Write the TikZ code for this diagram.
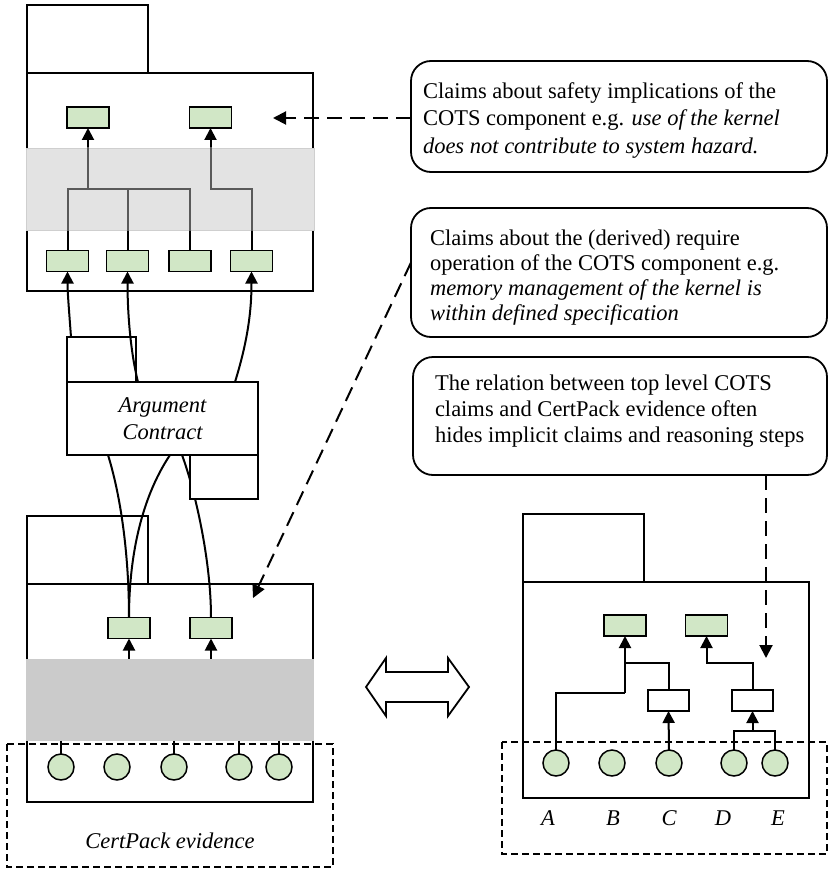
\documentclass[tikz,border=0pt]{standalone}
\usepackage{fontspec}
\setmainfont{Liberation Serif}
\usetikzlibrary{arrows.meta,calc}
\definecolor{claimgreen}{HTML}{D1E7C6}
\definecolor{bandlight}{HTML}{E3E3E3}
\definecolor{bandedge}{HTML}{CFCFCF}
\definecolor{banddark}{HTML}{CBCBCB}
\definecolor{treegray}{HTML}{5A5A5A}

% links of the upper claim tree; #1 colour, #2 extra style of the two rising links
\newcommand\upperlinks[2]{%
  \draw[link,#1] (b1.north) |- (j1) -| (b3.north);
  \draw[link,#1] (b2.north) -- (b2.north |- j1);
  \draw[link,#1,#2] (j1) -- (t1.south);
  \draw[link,#1,#2] (b4.north) |- (j2) -- (t2.south);}

\begin{document}
\begin{tikzpicture}[x=1pt,y=-1pt,
  font=\fontsize{22.5}{26}\selectfont,
  every node/.style={inner sep=0pt,outer sep=0pt},
  frame/.style={draw=black,line width=1.8pt},
  claimbox/.style={draw=black,line width=1.5pt,fill=claimgreen,minimum width=42pt,minimum height=21pt},
  stepbox/.style={draw=black,line width=1.5pt,fill=white,minimum width=41pt,minimum height=21pt},
  evid/.style={circle,draw=black,line width=1.5pt,fill=claimgreen,minimum size=26pt},
  link/.style={line width=2pt},
  uptip/.style={-{Triangle[length=12pt,width=12pt]}},
  uplink/.style={link,uptip},
  hint/.style={line width=2pt,dash pattern=on 15pt off 8pt,-{Triangle[length=13pt,width=13pt]}},
  callout/.style={draw=black,line width=1.8pt,rounded corners=20pt},
  note/.style={anchor=north west,align=left},
  evbox/.style={draw=black,line width=1.3pt,dash pattern=on 7pt off 4pt},
]
\useasboundingbox (0,0) rectangle (829,869);

% ---------- upper module ----------
\draw[frame] (27,5) rectangle (148,73);
\draw[frame] (27,73) rectangle (313,291);
\node[claimbox] (t1) at (88,117.5) {};
\node[claimbox] (t2) at (210.5,117.5) {};
\node[claimbox] (b1) at (67.5,261) {};
\node[claimbox] (b2) at (127.5,261) {};
\node[claimbox] (b3) at (190,261) {};
\node[claimbox] (b4) at (251.5,261) {};
\coordinate (j1) at (88,189);
\coordinate (j2) at (210.5,189);
\upperlinks{black}{uptip}
\node[fill=bandlight,draw=bandedge,line width=0.8pt,minimum width=288pt,minimum height=82pt] (uband) at (170,189) {};
\begin{scope}
  \clip (uband.south west) rectangle (uband.north east);
  \upperlinks{treegray}{}
\end{scope}

% ---------- argument contract ----------
\node[frame,minimum width=69pt,minimum height=45pt] (actab) at (101.5,359.5) {};
\node[frame,minimum width=191pt,minimum height=73pt,align=center,font=\fontsize{22.5}{27}\selectfont\itshape] (ac) at (162.5,418.5) {Argument\\Contract};

% ---------- lower module ----------
\draw[frame] (27,516) rectangle (148,584);
\draw[frame] (27,584) rectangle (313,802);
\node[claimbox] (l1) at (129,628) {};
\node[claimbox] (l2) at (211,628) {};
\node[fill=banddark,minimum width=288pt,minimum height=82pt] (lband) at (170,699.5) {};
\draw[uplink] (l1.south |- lband.north) -- (l1.south);
\draw[uplink] (l2.south |- lband.north) -- (l2.south);
\node[evid] (e1) at (61,767) {};
\node[evid] (e2) at (117,767) {};
\node[evid] (e3) at (174,767) {};
\node[evid] (e4) at (239,767) {};
\node[evid] (e5) at (279,767) {};
\foreach \e in {e1,e3,e4,e5}
  \draw[link] (\e.north |- lband.south) -- (\e.north);
\draw[evbox] (7,744) rectangle (333,867);
\node[anchor=base,font=\fontsize{22.5}{26}\selectfont\itshape] (certlbl) at (170,848) {CertPack evidence};

% ---------- contract links ----------
\draw[uplink] (actab.north -| 71,0) .. controls (69,310) and (67.5,292) .. (b1.south);
\draw[uplink] (ac.north -| 138,0) .. controls (130,350) and (127.5,310) .. (b2.south);
\draw[uplink] (ac.north -| 235,0) .. controls (248,340) and (251.5,310) .. (b4.south);
\draw[link] (ac.south -| 108,0) .. controls (122,500) and (129,560) .. (l1.north);
\draw[link] (ac.south -| 170,0) .. controls (140,500) and (129,560) .. (l1.north);
\draw[link] (ac.south -| 182,0) .. controls (195,490) and (211,560) .. (l2.north);
\node[frame,fill=white,minimum width=68pt,minimum height=44pt] (acfoot) at (224,477) {};

% ---------- right module ----------
\draw[frame] (523,514) rectangle (644,582);
\draw[frame] (523,582) rectangle (809,798);
\node[claimbox] (ga) at (625,625.5) {};
\node[claimbox] (gb) at (706.5,625.5) {};
\node[stepbox] (wa) at (668.5,700.5) {};
\node[stepbox] (wb) at (752.5,700.5) {};
\node[evid] (rA) at (556,763) {};
\node[evid] (rB) at (612,763) {};
\node[evid] (rC) at (669,763) {};
\node[evid] (rD) at (734,763) {};
\node[evid] (rE) at (775,763) {};
\coordinate (ja) at (625,663);
\coordinate (jb) at (706.5,663);
\draw[link] (rA.north) |- (ga.south |- 0,693);
\draw[link] (wa.north) |- (ja);
\draw[uplink] (ga.south |- 0,693) -- (ga.south);
\draw[uplink] (rC.north) -- (wa.south);
\draw[uplink] (wb.north) |- (jb) -- (gb.south);
\draw[link] (rD.north) |- (rE.north |- 0,731) -- (rE.north);
\draw[uplink] (wb.south |- 0,731) -- (wb.south);
\foreach \n/\x in {A/548,B/613,C/669,D/723,E/778}
  \node[anchor=base,font=\fontsize{22.5}{26}\selectfont\itshape] (lab\n) at (\x,825) {\n};
\draw[evbox] (502,742) rectangle (827,854);

% ---------- equivalence arrow ----------
\draw[line width=1.8pt,fill=white,line join=miter]
  (366,687) -- (386,658) -- (386,672) -- (448,672) -- (448,658) -- (469,687)
  -- (448,716) -- (448,702) -- (386,702) -- (386,716) -- cycle;

% ---------- callouts ----------
\node[callout,minimum width=416pt,minimum height=111pt] (co1) at (619,116.5) {};
\node[note,font=\fontsize{22.5}{27.5}\selectfont] (co1txt) at (423,82.6)
  {Claims about safety implications of the\\COTS component e.g. \textit{use of the kernel}\\\textit{does not contribute to system hazard.}};
\node[callout,minimum width=416pt,minimum height=129pt] (co2) at (619,272.5) {};
\node[note,font=\fontsize{22.5}{25}\selectfont] (co2txt) at (430,229.5)
  {Claims about the (derived) require\\operation of the COTS component e.g.\\\textit{memory management of the kernel is}\\\textit{within defined specification}};
\node[callout,minimum width=414pt,minimum height=118pt] (co3) at (620,416) {};
\node[note,font=\fontsize{22.5}{26}\selectfont] (co3txt) at (435,374.6)
  {The relation between top level COTS\\claims and CertPack evidence often\\hides implicit claims and reasoning steps};

\coordinate (p1) at (273,118);
\coordinate (p2) at (253,598);
\coordinate (p3) at (766,658);
\draw[hint] ($(co1.west)+(0,1.5)$) -- (p1);
\draw[hint] ($(co2.west)+(0,-10)$) -- (p2);
\draw[hint] (co3.south -| p3) -- (p3);
\end{tikzpicture}
\end{document}
